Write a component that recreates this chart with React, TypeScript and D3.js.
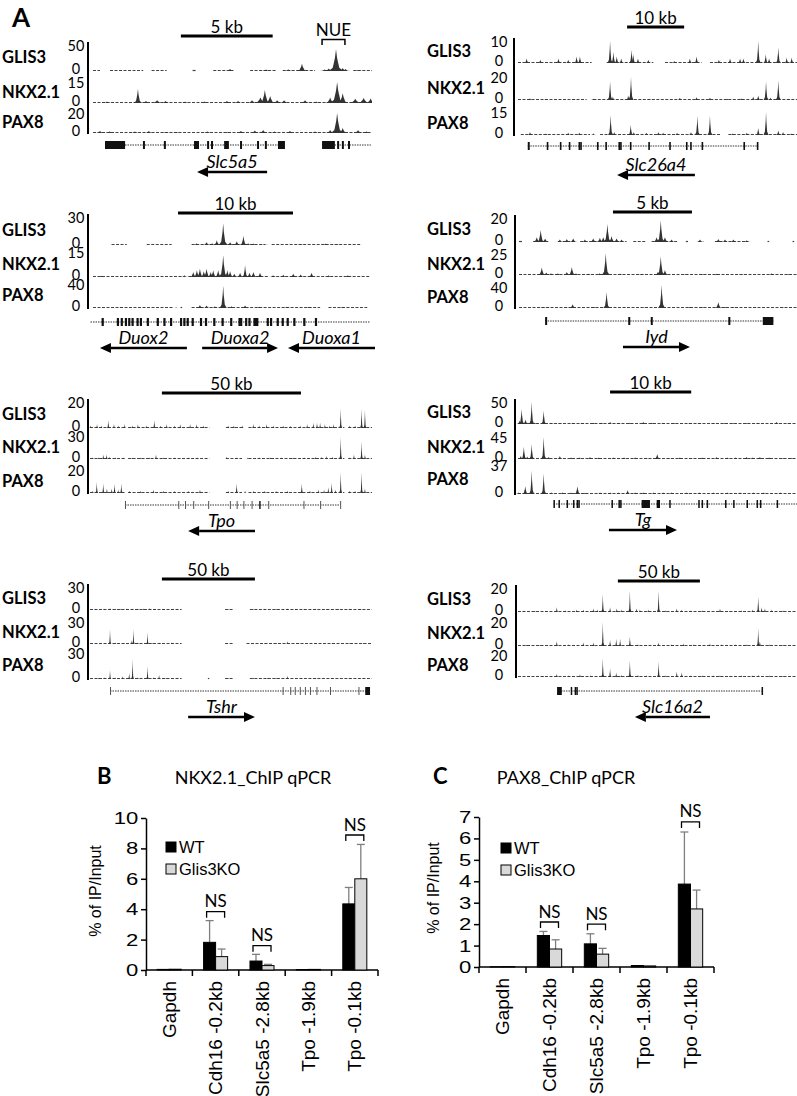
import React, { useEffect, useRef } from "react";
import * as d3 from "d3";

const LATO = "Lato, 'Open Sans', sans-serif";
const ARIAL = "'Liberation Sans', Arial, sans-serif";

// ---------- A: ChIP-seq browser tracks ----------
// peak = [position (% of window), signal, optional half-width %]
const trackNames = ["GLIS3", "NKX2.1", "PAX8"];
const trackMaxes = [[50, 15, 20], [10, 20, 15], [30, 15, 40], [20, 25, 40], [20, 30, 20], [50, 45, 37], [30, 30, 30], [20, 20, 20]];
const windowKb = [15.2, 48.9, 24.1, 17.6, 101.4, 34.4, 151.6, 170.1];
const scaleBarKb = [5, 10, 10, 5, 50, 10, 50, 50];
const scaleBarStart = [31.5, 39.1, 30.7, 33.8, 25.5, 33, 25.5, 35.8];

const slc5a5Peaks = [
  [[49.1, 4], [62, 3], [70, 3], [74.9, 14, 2], [83, 3], [84.5, 5], [87.1, 42, 2.6], [89.5, 6], [90.5, 4], [95, 2]],
  [[5, 1], [16.1, 10, 1.5], [19, 1.5], [23, 2, 2], [26, 1.5], [33, 1], [40, 1], [48, 1.5], [52, 1.5], [57, 2], [60, 4, 2.5], [61.6, 9.3, 2], [63.5, 5, 2], [66, 2], [68.5, 2], [76, 2], [80, 1], [85, 4, 2], [87.5, 15, 2.5], [89.5, 7, 2], [94, 3, 2.5], [97, 3.5, 2.5], [99.5, 3.2, 2]],
  [[2.5, 2], [6, 1.5], [15, 1.5], [20, 2], [26, 1], [30, 1], [41, 1.5], [48, 1], [53, 2], [58, 2.5], [61, 3], [65, 1.5], [70.6, 2], [79.6, 1.5], [85, 3], [87.5, 20, 2.2], [89.5, 5], [95, 3], [98, 1.5]],
];
const slc26a4Peaks = [
  [[3.1, 2], [8, 1.5], [14.5, 2], [18, 1.5], [21, 3], [22.2, 3], [33, 10], [34.2, 5], [35.4, 3], [37, 2], [40.7, 6], [41.3, 4], [43, 2], [46.7, 1.5], [56, 1], [61.6, 2], [64, 3], [72, 1.5], [76, 2], [79.6, 2], [80.8, 2], [86.1, 10], [88.8, 4], [90, 2], [93.3, 7], [96.3, 2.5], [98.1, 2.5]],
  [[4.3, 1.5], [10, 0.8], [20, 0.8], [27, 1], [33, 16], [34, 3], [39.5, 4], [40.5, 20], [47, 1], [58, 2], [64, 2.5], [68.8, 2], [75, 1], [80, 1.5], [84.3, 3], [86.1, 4], [88.9, 16], [90.5, 2], [93.3, 17], [97, 1]],
  [[4.3, 2], [10, 1], [18, 1.5], [22, 1.5], [27, 1], [33.2, 13], [34.5, 2], [40.4, 6.5], [41.5, 2], [46, 1.5], [50.3, 2], [52, 1.5], [57, 1.5], [62, 2], [64.3, 12.5], [68.8, 12.5], [77, 1], [82, 1.5], [86.1, 4.5], [88.9, 15], [93.3, 3], [95, 2], [98, 1]],
];
const duoxPeaks = [
  [[37.4, 2], [41, 3], [43, 2], [44.7, 5], [47, 23, 1.6], [49.5, 3], [51.9, 4], [54.3, 10, 1.3], [56, 2], [57.9, 1.5], [62, 1], [75, 1], [84, 1.5], [88, 1]],
  [[3, 0.8], [20, 0.8], [33, 1], [36.2, 3], [37.5, 4], [38.6, 5], [40, 3.5], [41, 5], [42.5, 3], [43.4, 4], [45.2, 4], [47, 13, 1.6], [48.5, 4], [49.5, 3.5], [51, 2], [53.1, 2.5], [54.9, 7, 1.1], [56.5, 2.5], [57.9, 3], [60.3, 2.5], [65, 1], [68.7, 1.3], [72.3, 2], [75, 1.5], [78.9, 2.5], [85, 1], [92, 1]],
  [[10, 1], [30, 1], [38.6, 5], [41, 4], [44, 3], [47, 37, 1.3], [50, 3], [54.9, 4], [60, 2], [70, 2], [78, 2], [90, 1.5]],
];
const iydPeaks = [
  [[6.4, 4], [7.8, 10], [9.4, 3], [14.7, 2], [17.2, 2.5], [19.5, 3], [23.7, 2], [26.7, 3], [29.1, 3.5], [30.3, 4], [31.8, 15], [33.3, 5], [35.1, 3], [36.9, 2], [49.5, 4], [51, 18], [52.5, 4], [54.9, 2], [65.1, 2], [71.7, 2.5], [74.1, 2], [77.1, 2], [81.9, 1.5]],
  [[8.2, 9], [9.8, 3], [11.5, 2], [14, 2], [17.2, 3.5], [19, 9.5], [20.5, 2], [25, 1.5], [29, 2], [31.2, 26], [36.4, 1.5], [44, 1], [50, 4], [51, 22], [52.5, 6], [60, 1], [66, 1], [71.1, 1.5], [80, 1], [90.9, 2], [97, 1]],
  [[8.7, 2], [10.5, 1.5], [17, 1.5], [19.3, 7], [26.9, 2], [31.5, 30, 1.2], [38, 1], [45, 1], [51.3, 44, 1.2], [61.5, 2], [66, 1.5], [71.7, 11], [74, 2], [77.1, 1.5], [85, 1], [95, 1]],
];
const tpoPeaks = [
  [[0.2, 2], [2.5, 3], [4, 2], [6.5, 6], [8.5, 3], [10, 2], [12.3, 3], [15, 2], [17, 3], [20, 2], [22.8, 6], [25, 2], [27.2, 3], [30, 2], [32, 3], [35.5, 3], [37.8, 3], [40.2, 2], [49, 2], [51, 2], [54, 2], [57.9, 3], [60, 2], [62.6, 3], [65, 2], [68.5, 2], [71, 2], [74.5, 2], [77, 3], [79.2, 4], [80.5, 4], [81.6, 4], [83.3, 3], [85, 2], [86.3, 3], [88.9, 15], [92, 2], [94, 2], [96.3, 15], [97.5, 14]],
  [[1, 2], [3, 2], [4.7, 6], [5.9, 6], [7, 3], [9, 2], [12, 2], [15, 2], [18, 2], [21, 2], [23.4, 6], [26, 2], [30, 2], [35, 2], [38, 2], [48.5, 3], [52, 2], [56, 2], [60, 2], [64, 2], [68, 2], [72, 2], [76, 2], [80, 3], [82, 3], [83.9, 4], [86, 3], [88.9, 29], [92, 2], [93.6, 6], [96.3, 23], [97.5, 6]],
  [[1, 2], [2.4, 9.5], [4.7, 8.5], [6, 4], [7.7, 4], [8.7, 8], [10, 3], [11.1, 8.5], [14, 2], [18, 2], [22.5, 3], [26, 2], [30, 2], [35, 2], [39, 3], [49, 2], [52, 8.5], [55, 2], [58, 2], [62, 2], [66, 2], [70, 2], [75.1, 8.5], [78, 2], [81, 3], [83, 3], [84.5, 5], [85.7, 9], [87, 3], [88.9, 18], [92, 2], [94, 2], [96.3, 18], [97.5, 4]],
];
const tgPeaks = [
  [[0.6, 8], [1.3, 34, 1], [2.7, 10], [4.9, 50, 0.9], [6, 3], [9.2, 30, 0.9], [12, 2], [15, 2], [19.7, 3], [23, 2], [27, 3], [30, 3], [33, 5], [36, 3], [40.1, 3], [44.9, 5], [48, 3], [52, 2], [56, 2], [61.6, 3], [65, 2], [70, 2], [74, 2], [77.1, 2], [82, 2], [86, 2], [92.7, 5], [97, 2]],
  [[1, 6], [2.1, 25, 1], [3.3, 5], [4.9, 30, 0.9], [9.2, 45, 0.9], [11, 4], [15, 6], [19, 3], [22, 3], [25.8, 4], [29, 3], [34.2, 3], [38, 3], [42, 3], [46, 2], [49.9, 10], [54, 2], [58, 3], [62, 2], [66, 3], [71.2, 4], [75, 3], [78, 3], [81.9, 4], [84, 3], [86.7, 4], [90, 3], [95, 2], [98, 2]],
  [[0.2, 2], [2.6, 10], [4.9, 30, 0.9], [9.2, 26, 0.9], [12, 2], [16, 2], [19, 2], [21.3, 10], [24, 1.5], [29.4, 2], [33, 2], [36, 2], [39.3, 5], [42, 2], [45, 2], [48.6, 2], [52, 2], [55, 2], [60.5, 2], [65, 2], [70, 2], [75, 2], [79.6, 2], [84.4, 2], [88, 2], [94, 2]],
];
const tshrPeaks = [
  [[2, 1.5], [5, 1.5], [7.1, 2.5], [9, 1.5], [11, 2], [13, 2], [15, 2], [17, 2], [19, 2], [21, 2.5], [23, 1.5], [26, 1.5], [29, 1.5], [31, 1.5], [49, 1], [58, 1], [62, 1.5], [66, 1.5], [70, 2], [73, 1.5], [76, 1.5], [80, 1.5], [84, 1.5], [88, 1.5], [92, 1.5], [96, 1.5]],
  [[4, 1], [7.1, 20], [9, 2], [12, 1.5], [14.8, 5], [15.4, 20], [17, 2], [20.4, 16], [22, 1.5], [24.8, 2], [29, 2], [48.5, 1], [58, 1], [62, 1], [66, 1.5], [70, 4], [74, 1.5], [80, 1], [86, 1.5], [92, 1], [97, 1.5]],
  [[3, 1.5], [5, 2], [7.1, 10], [8.9, 2], [11.5, 3.5], [13.9, 7], [15.1, 23], [17, 2], [20.4, 15], [22.5, 2], [24.5, 5], [27, 1.5], [31, 1.5], [49, 1], [58, 1.5], [63, 1.5], [66, 1.5], [70, 4], [75, 1.5], [80, 1.5], [86, 1.5], [92, 1.5], [97, 1.5]],
];
const slc16a2Peaks = [
  [[2, 1], [6, 1], [10, 1], [13.9, 4], [17, 1.5], [21, 2], [23.4, 2], [27, 3], [28.5, 2], [30.4, 15], [33, 4], [35.4, 3], [37, 2], [40.1, 18], [42.5, 3], [43.7, 2], [46.7, 2], [50.4, 18], [53, 1.5], [56.9, 3], [58.7, 2], [62, 1.5], [66, 1.5], [72.4, 3], [76, 1], [80, 1.5], [84, 2], [86.1, 13], [87.3, 4], [88.5, 3], [91, 2], [95, 1.5]],
  [[3, 1], [8, 1], [13.9, 4], [18, 1.5], [23.4, 3], [27, 3], [30.4, 20], [33, 5], [35.2, 6], [36.6, 6], [40.1, 8], [43, 1.5], [46, 1], [50.3, 3], [55, 1.5], [59.3, 2], [63, 1.5], [68.8, 2], [73, 1.5], [78, 1.5], [82, 1.5], [86.1, 15], [86.7, 4], [90, 1.5], [95, 1]],
  [[4, 1], [9, 1], [13.9, 3], [18, 1.5], [22.2, 2.5], [26, 1.5], [30.4, 17], [33, 8], [35.2, 4], [37, 2], [40.1, 15], [43, 2], [46, 1.5], [50.4, 14], [53, 1.5], [56.9, 5], [58.7, 4], [62, 1.5], [66, 1.5], [70, 1.5], [72.4, 1.5], [76, 1], [80, 1.5], [84, 1.5], [86.1, 2], [90, 1.5], [95, 1]],
];
const panelPeaks = [slc5a5Peaks, slc26a4Peaks, duoxPeaks, iydPeaks, tpoPeaks, tgPeaks, tshrPeaks, slc16a2Peaks];

// read coverage (baseline) intervals, % of window
const tpoCover = [[0, 12.6], [13.5, 42.3], [48.2, 53.9], [56.2, 90.2], [91.6, 100]];
const panelCover = [
  [[[0, 2.5], [6.1, 18], [21, 26.4], [35.7, 37.1], [43.1, 50.3], [56.3, 65.8], [68, 79.6], [83.2, 91], [93.3, 100]], [[0, 100]], [[0, 100]]],
  [[[0, 26.4], [31.8, 48.5], [52.7, 65.8], [68.8, 100]], [[0, 24.6], [27, 100]], [[1, 25.8], [29.4, 72.4], [75.4, 100]]],
  [[[6.7, 12.2], [19.4, 28.4], [35.6, 62.1], [64.5, 97]], [[0, 32.6], [34.4, 63.3], [64.5, 100]], [[0, 29.2], [31.6, 32.2], [35.6, 82], [85, 99]]],
  [[[0, 1.5], [5.1, 10.5], [14.1, 20.1], [22, 38.7], [41.1, 45.9], [47.7, 57.3], [60, 60.8], [64.5, 66.3], [70.5, 82.5], [89.4, 90], [98.4, 99]], [[0, 100]], [[0, 100]]],
  [tpoCover, tpoCover, tpoCover],
  [[[0, 100]], [[0, 100]], [[0, 100]]],
  [[[0, 32.5], [47.9, 50.8], [56.7, 99.9]], [[0, 32.5], [47.9, 50.8], [55.5, 99.9]], [[0, 32.5], [41.8, 42.3], [47.9, 50.8], [56.7, 99.9]]],
  [[[0, 100]], [[0, 100]], [[0, 100]]],
];

// gene models: intron spans and exons [start, end] in % of window
const panelIntrons = [
  [[4.3, 68.8], [82.1, 99.6]], [[3.5, 86.1]], [[-1.8, 100]], [[9.4, 91.5]],
  [[12.4, 88.7]], [[12.7, 100]], [[7.1, 99.3]], [[14.5, 87.3]],
];
const panelExons = [
  [[4.3, 11.5], [17.9, 17.9], [25.4, 25.4], [36.2, 38], [40.9, 40.9], [42.3, 42.3], [47, 48.7], [52.7, 52.7], [58.8, 58.8], [61.6, 61.6], [66.3, 68.8], [82.1, 86.7], [87.5, 87.5], [89.2, 89.2], [91.4, 91.4]],
  [[3.5, 4.2], [10.3, 10.3], [15, 15], [18.2, 18.2], [21.7, 21.7], [22.3, 22.3], [28.3, 28.3], [31.3, 31.3], [36, 36], [36.6, 36.6], [40.1, 40.1], [46.7, 46.7], [54.2, 54.7], [60.2, 60.2], [61.7, 61.7], [65.8, 65.8], [80.8, 80.8], [85.6, 86.1]],
  [[3.1, 3.9], [8.6, 8.6], [10, 10], [11.5, 11.5], [12.7, 12.7], [13.9, 13.9], [15.7, 15.7], [16.9, 16.9], [19.4, 19.4], [23, 23], [25.4, 25.4], [27.8, 27.8], [31.4, 31.4], [32.6, 32.6], [33.8, 33.8], [35.6, 35.6], [38.6, 38.6], [40.4, 40.4], [43.4, 43.4], [46.4, 46.4], [49.5, 49.5], [52.5, 52.5], [53.1, 53.1], [54.9, 54.9], [56.1, 56.1], [57.9, 59.7], [62.7, 62.7], [63.9, 63.9], [66.3, 66.3], [68.1, 68.1], [69.9, 69.9], [72.3, 72.3], [75.9, 75.9], [80.1, 80.1]],
  [[9.4, 10], [39.3, 39.3], [47.4, 47.4], [75.3, 75.3], [87.7, 91.5]],
  [[12.4, 12.4], [31.3, 31.3], [33.7, 33.7], [36.6, 36.6], [41.9, 41.9], [49.6, 49.6], [52, 52], [54.4, 54.4], [57.3, 57.3], [60, 60.5], [63.2, 63.2], [75.7, 75.7], [81.6, 81.6], [88.7, 88.7]],
  [[12.7, 12.7], [14.5, 14.5], [17.4, 17.4], [19.7, 19.7], [21, 21], [21.6, 21.6], [33.5, 33.5], [36, 36], [36.6, 36.6], [44.3, 47.3], [49.7, 50.9], [54.2, 54.2], [64.6, 64.6], [65.8, 65.8], [67.6, 67.6], [74.2, 74.2], [77.1, 77.1], [81.9, 81.9], [85.5, 85.5], [86.7, 86.7], [92.7, 92.7]],
  [[7.1, 7.1], [68.3, 68.3], [71, 71], [72.6, 72.6], [74.4, 74.4], [76.2, 76.2], [78, 78], [80.3, 80.3], [85.1, 85.1], [95.2, 95.2], [97.6, 99.3]],
  [[14, 15.7], [18.9, 18.9], [20.3, 20.3], [20.9, 20.9], [87.3, 87.3]],
];
// gene name, arrow start %, arrow end %, strand
const panelGeneLabels: [string, number, number, number][][] = [
  [["Slc5a5", 37.3, 62.4, -1]],
  [["Slc26a4", 35.5, 63.4, -1]],
  [["Duox2", 2.5, 33.9, -1], ["Duoxa2", 39.4, 66.8, 1], ["Duoxa1", 70.4, 101.8, -1]],
  [["Iyd", 37.4, 61.5, 1]],
  [["Tpo", 34.8, 58.5, -1]],
  [["Tg", 32.6, 57, 1]],
  [["Tshr", 34.8, 58.5, 1]],
  [["Slc16a2", 41.9, 68.8, -1]],
];
const nueSpan = [82.1, 90.3];

const LAYOUT = [
  { labelX: 2, numX: 76, axisX: 88, xs: 93, xe: 372, rows: [[45, 71], [82, 103], [113, 133]], barY: 36, geneY: 145, arrowY: 172, w: 1.8, tick: 2 },
  { labelX: 427, numX: 499, axisX: 514, xs: 518, xe: 797, rows: [[41, 63], [77, 100], [112, 135]], barY: 27, geneY: 146, arrowY: 175, w: 0.9, tick: 1.6 },
  { labelX: 2, numX: 76, axisX: 88, xs: 93, xe: 370, rows: [[217, 245], [252, 277], [284, 308]], barY: 213, geneY: 322, arrowY: 348, w: 1.4, tick: 2.2 },
  { labelX: 427, numX: 499, axisX: 515, xs: 519, xe: 797, rows: [[218, 242], [254, 275], [287, 308]], barY: 212, geneY: 321, arrowY: 347, w: 1.4, tick: 2 },
  { labelX: 2, numX: 76, axisX: 88, xs: 90, xe: 372, rows: [[402, 428], [436, 459], [470, 493]], barY: 393, geneY: 505, arrowY: 531, w: 0.5, tick: 1 },
  { labelX: 427, numX: 499, axisX: 515, xs: 518, xe: 797, rows: [[402, 424], [437, 459], [465, 494]], barY: 392, geneY: 504, arrowY: 530, w: 1.1, tick: 1.5 },
  { labelX: 2, numX: 76, axisX: 88, xs: 90, xe: 372, rows: [[587, 610], [622, 644], [653, 679]], barY: 579, geneY: 691, arrowY: 717, w: 0.45, tick: 1 },
  { labelX: 427, numX: 499, axisX: 516, xs: 518, xe: 797, rows: [[588, 612], [622, 646], [655, 677]], barY: 581, geneY: 691, arrowY: 717, w: 0.55, tick: 1.5 },
];

// ---------- B, C: ChIP-qPCR ----------
const qpcrSites = ["Gapdh", "Cdh16 -0.2kb", "Slc5a5 -2.8kb", "Tpo -1.9kb", "Tpo -0.1kb"];
const nkxWT = [0.04, 1.82, 0.59, 0.03, 4.35];
const nkxWTErr = [0, 1.43, 0.44, 0, 1.08];
const nkxKO = [0.05, 0.88, 0.29, 0.04, 6.0];
const nkxKOErr = [0, 0.5, 0.08, 0, 2.26];
const nkxNS = [[1, 3.84], [2, 1.6], [4, 8.88]];
const paxWT = [0.01, 1.47, 1.08, 0.07, 3.87];
const paxWTErr = [0, 0.19, 0.47, 0, 2.43];
const paxKO = [0.02, 0.84, 0.6, 0.05, 2.71];
const paxKOErr = [0, 0.43, 0.27, 0, 0.88];
const paxNS = [[1, 2.1], [2, 2.0], [4, 6.77]];

const peakShape = (p: number[], w0: number) => {
  const [c, h, w = w0] = p;
  return [[c - w, 0], [c - w * 0.45, h * 0.15], [c - w * 0.15, h * 0.6], [c, h], [c + w * 0.15, h * 0.6], [c + w * 0.45, h * 0.15], [c + w, 0]];
};

function drawPanel(svg: any, L: any, i: number) {
  const g = svg.append("g");
  const x = d3.scaleLinear().domain([0, 100]).range([L.xs, L.xe]);
  const clipId = `clip-${i}`;
  svg.append("clipPath").attr("id", clipId).append("rect")
    .attr("x", L.xs - 3).attr("y", 0).attr("width", L.xe - L.xs + 3).attr("height", 1096);

  // scale bar
  const bx0 = x(scaleBarStart[i]);
  const bx1 = bx0 + (scaleBarKb[i] / windowKb[i]) * (L.xe - L.xs);
  g.append("line").attr("x1", bx0).attr("x2", bx1).attr("y1", L.barY).attr("y2", L.barY)
    .attr("stroke", "#000").attr("stroke-width", 3);
  g.append("text").attr("x", (bx0 + bx1) / 2).attr("y", L.barY - 3).attr("text-anchor", "middle")
    .attr("font-family", LATO).attr("font-size", 17).text(`${scaleBarKb[i]} kb`);

  if (i === 0) {
    const n0 = x(nueSpan[0]), n1 = x(nueSpan[1]);
    g.append("path").attr("d", `M${n0},45V39.5H${n1}V45`).attr("fill", "none").attr("stroke", "#000").attr("stroke-width", 1.5);
    g.append("text").attr("x", (n0 + n1) / 2).attr("y", 35.5).attr("text-anchor", "middle")
      .attr("font-family", LATO).attr("font-size", 17).text("NUE");
  }

  // y axis
  g.append("line").attr("x1", L.axisX).attr("x2", L.axisX)
    .attr("y1", L.rows[0][0] - 3).attr("y2", L.rows[2][1] + 1)
    .attr("stroke", "#000").attr("stroke-width", 2);

  const tracks = g.append("g").attr("clip-path", `url(#${clipId})`);

  L.rows.forEach(([yT, yB]: number[], t: number) => {
    const y = d3.scaleLinear().domain([0, trackMaxes[i][t]]).range([yB, yT]);
    g.append("text").attr("x", L.labelX).attr("y", (yT + yB) / 2 - 1).attr("dominant-baseline", "central")
      .attr("font-family", LATO).attr("font-weight", 700).attr("font-size", 16.5).text(trackNames[t]);
    g.append("text").attr("x", L.numX).attr("y", yT).attr("dominant-baseline", "central").attr("text-anchor", "middle")
      .attr("font-family", LATO).attr("font-size", 14.5).text(trackMaxes[i][t]);
    g.append("text").attr("x", L.numX).attr("y", yB - 3).attr("dominant-baseline", "central").attr("text-anchor", "middle")
      .attr("font-family", LATO).attr("font-size", 14.5).text("0");

    tracks.selectAll(null).data(panelCover[i][t]).join("line")
      .attr("x1", (d: number[]) => x(d[0])).attr("x2", (d: number[]) => x(d[1]))
      .attr("y1", y(0) - 0.5).attr("y2", y(0) - 0.5)
      .attr("stroke", "#444").attr("stroke-width", 1.2).attr("stroke-dasharray", "3 1.5");

    const area = d3.area<number[]>().x(d => x(d[0])).y0(y(0)).y1(d => y(d[1]));
    tracks.selectAll(null).data(panelPeaks[i][t]).join("path")
      .attr("d", (p: number[]) => area(peakShape(p, L.w) as any))
      .attr("fill", "#333");
  });

  // gene model
  const gm = g.append("g").attr("clip-path", `url(#${clipId})`);
  gm.selectAll(null).data(panelIntrons[i]).join("line")
    .attr("x1", (d: number[]) => x(d[0])).attr("x2", (d: number[]) => x(d[1]))
    .attr("y1", L.geneY).attr("y2", L.geneY)
    .attr("stroke", "#777").attr("stroke-width", 1.3).attr("stroke-dasharray", "1.5 1");
  gm.selectAll(null).data(panelExons[i]).join("rect")
    .attr("x", (d: number[]) => x(d[0]))
    .attr("width", (d: number[]) => Math.max(L.tick, x(d[1]) - x(d[0])))
    .attr("y", L.geneY - 4).attr("height", 8)
    .attr("fill", (d: number[]) => (d[1] > d[0] || L.tick >= 1.5 ? "#111" : "#555"));

  panelGeneLabels[i].forEach(([name, a, b, dir]) => {
    const xa = x(a), xb = x(b);
    g.append("text").attr("x", (xa + xb) / 2).attr("y", L.arrowY - 4).attr("text-anchor", "middle")
      .attr("font-family", LATO).attr("font-style", "italic").attr("font-size", 18).text(name);
    const tip = dir < 0 ? xa : xb;
    const back = dir < 0 ? xa + 11 : xb - 11;
    g.append("line").attr("x1", dir < 0 ? back : xa).attr("x2", dir < 0 ? xb : back)
      .attr("y1", L.arrowY).attr("y2", L.arrowY).attr("stroke", "#000").attr("stroke-width", 2.5);
    g.append("path").attr("d", `M${tip},${L.arrowY}L${back},${L.arrowY - 5}L${back},${L.arrowY + 5}Z`).attr("fill", "#000");
  });
}

function drawBars(svg: any, C: any, wt: number[], wtErr: number[], ko: number[], koErr: number[], ns: number[][]) {
  const g = svg.append("g");
  const x = d3.scaleBand().domain(qpcrSites).range([C.x0, C.x1]).padding(0);
  const inner = d3.scaleBand().domain(["WT", "KO"]).range([0, x.bandwidth()]).paddingInner(0).paddingOuter(0.93);
  const y = d3.scaleLinear().domain([0, C.max]).range([C.y0, C.yTop]);

  g.append("text").attr("x", C.letterX).attr("y", C.titleY).attr("font-family", LATO)
    .attr("font-weight", 700).attr("font-size", 22).text(C.letter);
  g.append("text").attr("x", C.titleX).attr("y", C.titleY).attr("text-anchor", "middle")
    .attr("font-family", LATO).attr("font-size", 18).text(C.title);

  const yAxis = g.append("g").attr("transform", `translate(${C.x0},0)`)
    .call(d3.axisLeft(y).tickValues(d3.range(0, C.max + 0.01, C.step)).tickSize(5).tickSizeOuter(0).tickFormat(d3.format("d")));
  yAxis.select(".domain").attr("stroke-width", 1.5);
  yAxis.selectAll(".tick line").attr("stroke-width", 1.5);
  yAxis.selectAll("text").attr("font-family", ARIAL).attr("font-size", 17).attr("x", -6).attr("fill", "#000")
    .attr("transform", "scale(1.3,1)");

  g.append("text").attr("transform", `translate(${C.labelX},${C.labelY}) rotate(-90)`)
    .attr("text-anchor", "middle").attr("dominant-baseline", "central")
    .attr("font-family", ARIAL).attr("font-size", 16).text("% of IP/Input");

  // x axis with category boundary ticks
  g.append("line").attr("x1", C.x0).attr("x2", C.x1).attr("y1", C.y0).attr("y2", C.y0).attr("stroke", "#000").attr("stroke-width", 1.5);
  g.selectAll(null).data([...qpcrSites.map(s => x(s)! + x.bandwidth()), C.x0]).join("line")
    .attr("x1", (d: number) => d).attr("x2", (d: number) => d).attr("y1", C.y0).attr("y2", C.y0 + 6)
    .attr("stroke", "#000").attr("stroke-width", 1.5);
  g.selectAll(null).data(qpcrSites).join("text")
    .attr("transform", (s: string) => `translate(${x(s)! + x.bandwidth() / 2},${C.y0 + 11}) rotate(-90)`)
    .attr("text-anchor", "end").attr("dominant-baseline", "central")
    .attr("font-family", ARIAL).attr("font-size", 19).text((s: string) => s);

  const series = [
    { key: "WT", vals: wt, errs: wtErr, fill: "#000" },
    { key: "KO", vals: ko, errs: koErr, fill: "#d9d9d9" },
  ];
  series.forEach(s => {
    qpcrSites.forEach((site, k) => {
      const bx = x(site)! + inner(s.key)!;
      const cx = bx + inner.bandwidth() / 2;
      if (s.errs[k] > 0) {
        const ye = y(s.vals[k] + s.errs[k]);
        g.append("line").attr("x1", cx).attr("x2", cx).attr("y1", y(s.vals[k])).attr("y2", ye).attr("stroke", "#7f7f7f").attr("stroke-width", 1.3);
        g.append("line").attr("x1", cx - 4).attr("x2", cx + 4).attr("y1", ye).attr("y2", ye).attr("stroke", "#7f7f7f").attr("stroke-width", 1.3);
      }
      g.append("rect").attr("x", bx).attr("width", inner.bandwidth())
        .attr("y", y(s.vals[k])).attr("height", C.y0 - y(s.vals[k]))
        .attr("fill", s.fill).attr("stroke", "#000").attr("stroke-width", 1);
    });
  });

  ns.forEach(([k, v]) => {
    const cx = x(qpcrSites[k])! + x.bandwidth() / 2;
    const yb = y(v);
    g.append("path").attr("d", `M${cx - 9},${yb + 6}V${yb}H${cx + 9}V${yb + 6}`)
      .attr("fill", "none").attr("stroke", "#000").attr("stroke-width", 1.3);
    g.append("text").attr("x", cx).attr("y", yb - 11).attr("text-anchor", "middle").attr("dominant-baseline", "central")
      .attr("font-family", LATO).attr("font-size", 17).text("NS");
  });

  [["WT", "#000"], ["Glis3KO", "#d9d9d9"]].forEach(([name, fill], j) => {
    const ly = C.legendY + j * 22;
    g.append("rect").attr("x", C.legendX).attr("y", ly).attr("width", 10).attr("height", 10)
      .attr("fill", fill).attr("stroke", "#000").attr("stroke-width", 1);
    g.append("text").attr("x", C.legendX + 13).attr("y", ly + 5).attr("dominant-baseline", "central")
      .attr("font-family", ARIAL).attr("font-size", 16.5).text(name);
  });
}

export default function App() {
  const ref = useRef<SVGSVGElement>(null);
  useEffect(() => {
    document.body.style.margin = "0";
    const svg = d3.select(ref.current);
    svg.selectAll("*").remove();
    svg.append("rect").attr("width", 797).attr("height", 1096).attr("fill", "#fff");
    svg.append("text").attr("x", 12).attr("y", 27).attr("font-family", LATO).attr("font-weight", 700)
      .attr("font-size", 26).text("A");
    LAYOUT.forEach((L, i) => drawPanel(svg, L, i));
    drawBars(svg, { x0: 146, x1: 378, y0: 970, yTop: 818, max: 10, step: 2, legendX: 166, legendY: 842, titleX: 253, titleY: 784, letterX: 97, letter: "B", title: "NKX2.1_ChIP qPCR", labelX: 95, labelY: 891 },
      nkxWT, nkxWTErr, nkxKO, nkxKOErr, nkxNS);
    drawBars(svg, { x0: 479, x1: 714, y0: 967, yTop: 817, max: 7, step: 1, legendX: 501, legendY: 843, titleX: 566, titleY: 784, letterX: 433, letter: "C", title: "PAX8_ChIP qPCR", labelX: 433, labelY: 888 },
      paxWT, paxWTErr, paxKO, paxKOErr, paxNS);
  }, []);
  return <svg ref={ref} width={797} height={1096} style={{ display: "block" }} />;
}
